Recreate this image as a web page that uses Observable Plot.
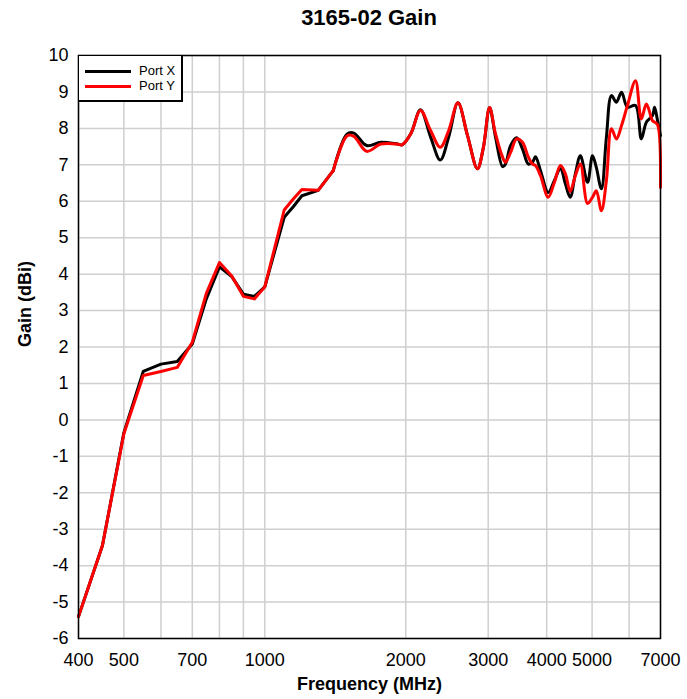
<!DOCTYPE html>
<html>
<head>
<meta charset="utf-8">
<script src="https://cdn.jsdelivr.net/npm/d3@7"></script>
<script src="https://cdn.jsdelivr.net/npm/@observablehq/plot@0.6"></script>
<style>
  body { margin: 0; background: #fff; }
  #wrap { position: relative; width: 687px; height: 699px; font-family: "Liberation Sans", Arial, sans-serif; }
  #title { position: absolute; left: 78px; width: 582px; top: 4px; line-height: 28px; text-align: center; font-weight: bold; font-size: 22px; }
  #chart { position: absolute; left: 0; top: 40px; }
  #legend { position: absolute; left: 78px; top: 55px; width: 104px; height: 46px; background: #fff; border: 1px solid #000; box-shadow: 1px 1px 0 #000; box-sizing: border-box; font-size: 13px; }
  .li { position: absolute; left: 6px; height: 15px; }
  .li span.sw { position: absolute; left: 0; top: 6px; width: 46px; height: 3px; }
  .li span.lb { position: absolute; left: 54px; top: -1px; white-space: nowrap; }
</style>
</head>
<body>
<div id="wrap">
  <div id="title">3165-02 Gain</div>
  <div id="chart"></div>
  <div id="legend">
    <div class="li" style="top:8px"><span class="sw" style="background:#000"></span><span class="lb">Port X</span></div>
    <div class="li" style="top:23px"><span class="sw" style="background:#f00"></span><span class="lb">Port Y</span></div>
  </div>
</div>
<script>
const freq = [400,450,500,550,600,650,700,750,800,850,900,950,1000,1100,1150,1200,1300,1400,1500,1550,1650,1770,1920,1965,2050,2150,2260,2370,2470,2585,2710,2845,2930,3020,3110,3220,3265,3350,3450,3550,3655,3730,3785,3880,4030,4150,4280,4385,4490,4605,4720,4890,5010,5105,5235,5365,5500,5635,5780,5950,6190,6370,6530,6730,6800,6900,7000];
const portX = [-5.40,-3.45,-0.35,1.33,1.53,1.60,2.08,3.32,4.20,3.93,3.45,3.39,3.65,5.56,5.85,6.15,6.30,6.84,7.85,7.87,7.53,7.62,7.57,7.55,7.85,8.51,7.76,7.13,7.76,8.70,7.80,6.89,7.48,8.57,7.76,6.95,7.02,7.53,7.74,7.44,7.02,7.07,7.22,6.84,6.24,6.56,6.89,6.48,6.11,6.75,7.25,6.52,7.25,6.93,6.34,7.76,8.90,8.72,8.99,8.58,8.63,7.71,8.17,8.35,8.58,8.21,7.80];
const portY = [-5.40,-3.45,-0.38,1.22,1.33,1.44,2.13,3.47,4.32,3.95,3.39,3.32,3.65,5.76,6.06,6.32,6.30,6.84,7.80,7.78,7.37,7.57,7.57,7.55,7.85,8.49,7.94,7.48,7.94,8.70,7.80,6.89,7.48,8.57,7.85,7.21,7.07,7.34,7.71,7.62,7.21,7.02,6.98,6.70,6.11,6.50,6.98,6.75,6.27,6.70,7.02,5.94,6.11,6.29,5.74,6.57,7.99,7.71,8.08,8.63,9.31,8.26,8.67,8.21,8.17,8.10,6.38];
const xTickLabels = [400,500,700,1000,2000,3000,4000,5000,7000];
const xGridLines = [400,500,600,700,800,900,1000,2000,3000,4000,5000,6000,7000];
const yTickLabels = [-6,-5,-4,-3,-2,-1,0,1,2,3,4,5,6,7,8,9,10];

const rows = freq.map((f, i) => ({f, px: portX[i], py: portY[i]}));
const lowRows = rows.filter(r => r.f <= 1400);
const highRows = rows.filter(r => r.f >= 1400);

const chart = Plot.plot({
  width: 687,
  height: 659,
  marginLeft: 78,
  marginRight: 27,
  marginTop: 15,
  marginBottom: 61,
  x: {type: "log", domain: [400, 7000], axis: null},
  y: {domain: [-6, 10]},
  style: {fontFamily: "'Liberation Sans', Arial, sans-serif", fontSize: "18px", color: "#000", background: "transparent", overflow: "visible"},
  marks: [
    Plot.gridX(xGridLines, {stroke: "#cfcfcf", strokeOpacity: 1, strokeWidth: 1.5}),
    Plot.gridY(yTickLabels, {stroke: "#cfcfcf", strokeOpacity: 1, strokeWidth: 1.5}),
    Plot.line(lowRows, {x: "f", y: "px", stroke: "#000", strokeWidth: 3, curve: "linear"}),
    Plot.line(highRows, {x: "f", y: "px", stroke: "#000", strokeWidth: 3, curve: "catmull-rom"}),
    Plot.line(lowRows, {x: "f", y: "py", stroke: "#f00", strokeWidth: 3, curve: "linear"}),
    Plot.line(highRows, {x: "f", y: "py", stroke: "#f00", strokeWidth: 3, curve: "catmull-rom"}),
    Plot.frame({stroke: "#000", strokeWidth: 1.5}),
    Plot.text(xTickLabels, {x: d => d, text: d => String(d), frameAnchor: "bottom", dy: 15, lineAnchor: "top", fontSize: 18, fill: "#000"}),
    Plot.axisY(yTickLabels, {tickSize: 0, tickPadding: 10, tickFormat: d => String(d), label: null, fontSize: 18}),
    Plot.text(["Gain (dBi)"], {frameAnchor: "left", dx: -53, rotate: -90, fontWeight: "bold", fontSize: 18, fill: "#000"}),
    Plot.text(["Frequency (MHz)"], {frameAnchor: "bottom", dy: 46, lineAnchor: "middle", fontWeight: "bold", fontSize: 18, fill: "#000"})
  ]
});
document.getElementById("chart").appendChild(chart);
</script>
</body>
</html>
